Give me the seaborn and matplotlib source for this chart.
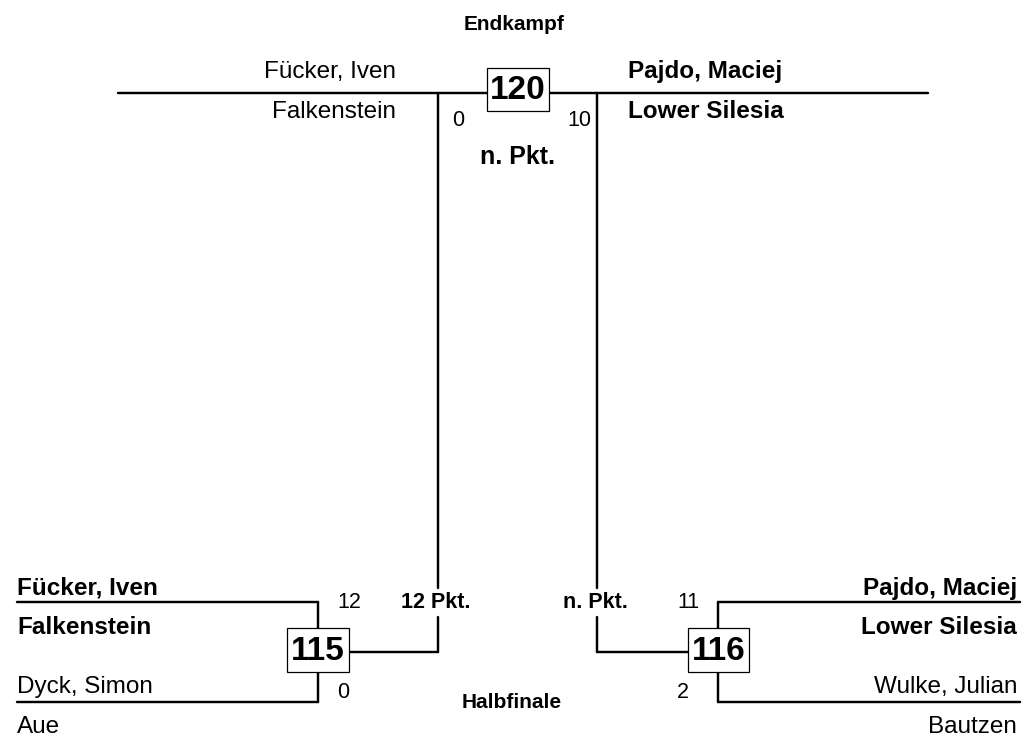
#!/usr/bin/env python3

from __future__ import annotations

import matplotlib

matplotlib.use("Agg")
import matplotlib.pyplot as plt
import pandas as pd
import seaborn as sns
from matplotlib.patches import Rectangle


# bracket data
FINAL_TITLE = "Endkampf"
SEMI_TITLE = "Halbfinale"
FINAL_MATCH = "120"
SEMI_MATCHES = ["115", "116"]

SEMI_NAMES = [["Fücker, Iven", "Dyck, Simon"], ["Pajdo, Maciej", "Wulke, Julian"]]
SEMI_CLUBS = [["Falkenstein", "Aue"], ["Lower Silesia", "Bautzen"]]
SEMI_SCORES = [["12", "0"], ["11", "2"]]
SEMI_WINNER = [0, 0]
SEMI_RESULT = ["12 Pkt.", "n. Pkt."]

FINAL_NAMES = ["Fücker, Iven", "Pajdo, Maciej"]
FINAL_CLUBS = ["Falkenstein", "Lower Silesia"]
FINAL_SCORES = ["0", "10"]
FINAL_WINNER = 1
FINAL_RESULT = "n. Pkt."

# layout (pixel units of the 1023 x 738 canvas)
WIDTH, HEIGHT = 1023, 738
FINAL_Y = 93
FINAL_X = (118, 928)
FINAL_BOX = (487, 68, 62, 43)
FEED_X = (438, 597)
SEMI_TOP_Y, SEMI_BOT_Y, SEMI_MID_Y = 602, 702, 652
SEMI_LINE_X = [(17, 318), (718, 1020)]
SEMI_BOXES = [(287, 628, 62, 44), (688, 628, 61, 44)]
GAP = (588, 617)
LW = 1.75


def apply_style() -> None:
    sns.set_theme(style="white")
    plt.rcParams.update(
        {
            "font.family": ["Liberation Sans", "DejaVu Sans"],
            "text.color": "black",
            "figure.facecolor": "white",
            "axes.facecolor": "white",
        }
    )


def bracket_segments() -> pd.DataFrame:
    segs = [
        [(FINAL_X[0], FINAL_Y), (FINAL_X[1], FINAL_Y)],
    ]
    for side, fx in enumerate(FEED_X):
        segs.append([(fx, FINAL_Y), (fx, GAP[0])])
        segs.append([(fx, GAP[1]), (fx, SEMI_MID_Y)])
        bx, by, bw, bh = SEMI_BOXES[side]
        edge = bx + bw if side == 0 else bx
        segs.append([(fx, SEMI_MID_Y), (edge, SEMI_MID_Y)])
        x0, x1 = SEMI_LINE_X[side]
        vx = x1 if side == 0 else x0
        segs.append([(x0, SEMI_TOP_Y), (x1, SEMI_TOP_Y)])
        segs.append([(x0, SEMI_BOT_Y), (x1, SEMI_BOT_Y)])
        segs.append([(vx, SEMI_TOP_Y), (vx, SEMI_BOT_Y)])
    rows = []
    for i, seg in enumerate(segs):
        for order, (x, y) in enumerate(seg):
            rows.append({"seg": i, "order": order, "x": x, "y": y})
    return pd.DataFrame(rows)


def draw_box(ax: plt.Axes, box: tuple, label: str) -> None:
    x, y, w, h = box
    ax.add_patch(Rectangle((x, y), w, h, facecolor="white", edgecolor="black", lw=0.9, zorder=3))
    ax.text(x + w / 2, y + h / 2 + 1, label, ha="center", va="center", fontsize=24,
            fontweight="bold", zorder=4)


def main() -> None:
    apply_style()
    fig = plt.figure(figsize=(WIDTH / 100, HEIGHT / 100), dpi=100)
    ax = fig.add_axes([0, 0, 1, 1])

    sns.lineplot(data=bracket_segments(), x="x", y="y", units="seg", estimator=None,
                 sort=False, color="black", lw=LW, ax=ax, zorder=2)

    ax.set_xlim(0, WIDTH)
    ax.set_ylim(HEIGHT, 0)
    ax.axis("off")

    # final
    ax.text(514, 30, FINAL_TITLE, ha="center", va="baseline", fontsize=15, fontweight="bold")
    draw_box(ax, FINAL_BOX, FINAL_MATCH)
    for side in range(2):
        weight = "bold" if side == FINAL_WINNER else "normal"
        x, ha = (396, "right") if side == 0 else (628, "left")
        ax.text(x, 78, FINAL_NAMES[side], ha=ha, va="baseline", fontsize=17.5, fontweight=weight)
        ax.text(x, 118, FINAL_CLUBS[side], ha=ha, va="baseline", fontsize=17.5, fontweight=weight)
    ax.text(458, 121, FINAL_SCORES[0], ha="center", va="center", fontsize=15.5)
    ax.text(579, 121, FINAL_SCORES[1], ha="center", va="center", fontsize=15.5)
    ax.text(517, 157, FINAL_RESULT, ha="center", va="center", fontsize=18, fontweight="bold")

    # semifinals
    ax.text(512, 703, SEMI_TITLE, ha="center", va="center", fontsize=15, fontweight="bold")
    score_x = [(349, 343), (688, 683)]
    for side in range(2):
        draw_box(ax, SEMI_BOXES[side], SEMI_MATCHES[side])
        x, ha = (17, "left") if side == 0 else (1017, "right")
        for slot, (name_y, club_y) in enumerate([(595, 634), (693, 733)]):
            weight = "bold" if slot == SEMI_WINNER[side] else "normal"
            ax.text(x, name_y, SEMI_NAMES[side][slot], ha=ha, va="baseline", fontsize=17.5,
                    fontweight=weight)
            ax.text(x, club_y, SEMI_CLUBS[side][slot], ha=ha, va="baseline", fontsize=17.5,
                    fontweight=weight)
        ax.text(score_x[side][0], 603, SEMI_SCORES[side][0], ha="center", va="center", fontsize=15.5)
        ax.text(score_x[side][1], 693, SEMI_SCORES[side][1], ha="center", va="center", fontsize=15.5)
        ax.text(FEED_X[side] - 2, 603, SEMI_RESULT[side], ha="center", va="center", fontsize=15.5,
                fontweight="bold")

    fig.savefig("out.png", dpi=100)
    plt.close(fig)


if __name__ == "__main__":
    main()
